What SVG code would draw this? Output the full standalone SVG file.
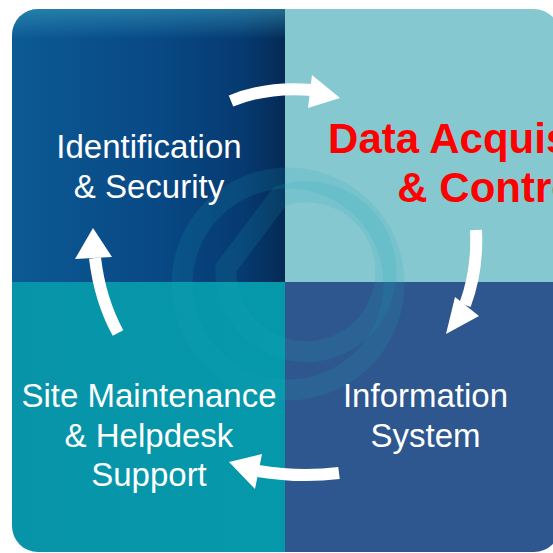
<svg xmlns="http://www.w3.org/2000/svg" width="553" height="553" viewBox="0 0 553 553">
<defs>
<clipPath id="panel"><rect x="12" y="9" width="548" height="543" rx="26"/></clipPath>
<linearGradient id="tl" x1="0" y1="0" x2="1" y2="0">
<stop offset="0" stop-color="#0c5a94"/>
<stop offset="0.55" stop-color="#084884"/>
<stop offset="0.85" stop-color="#063a70"/>
<stop offset="1" stop-color="#042a55"/>
</linearGradient>
<linearGradient id="tlTop" x1="0" y1="0" x2="0" y2="1">
<stop offset="0" stop-color="#3aa0c0" stop-opacity="0.55"/>
<stop offset="1" stop-color="#3aa0c0" stop-opacity="0"/>
</linearGradient>
<linearGradient id="blL" x1="0" y1="0" x2="1" y2="0">
<stop offset="0" stop-color="#0894a8"/>
<stop offset="1" stop-color="#0598ab"/>
</linearGradient>
<style>
.lbl{font-family:"Liberation Sans",Arial,sans-serif;font-size:33px;fill:#ffffff;text-anchor:middle}
.hot{font-family:"Liberation Sans",Arial,sans-serif;font-size:42px;font-weight:bold;fill:#ff0000;text-anchor:middle}
.shaft{fill:none;stroke:#ffffff;stroke-width:12}
.head{fill:#ffffff}
.ring{fill:none;stroke:#1aa6bb;stroke-opacity:0.15;stroke-width:21}
</style>
</defs>
<rect width="553" height="553" fill="#ffffff"/>
<g id="background" clip-path="url(#panel)">
<rect x="12" y="9" width="273" height="273" fill="url(#tl)"/>
<rect x="12" y="9" width="273" height="30" fill="url(#tlTop)"/>
<rect x="285" y="9" width="280" height="273" fill="#86c8d0"/>
<rect x="12" y="282" width="273" height="280" fill="url(#blL)"/>
<rect x="285" y="282" width="280" height="280" fill="#2e578f"/>
<g id="watermark">
<circle class="ring" cx="288" cy="284" r="106"/>
<path class="ring" d="M226,268 L280,196 A80,80 0 1 1 226,268 Z"/>
</g>
</g>
<g id="connectors">
<path class="shaft" d="M231,101 Q268,86 312,90"/>
<polygon class="head" points="312,75 340,98 308,108"/>
<path class="shaft" d="M476,230 Q478,270 465,305"/>
<polygon class="head" points="455,297 479,316 446,334"/>
<path class="shaft" d="M339,473 Q300,478 258,471"/>
<polygon class="head" points="262,454 229,462 255,489"/>
<path class="shaft" d="M118,333 Q100,300 95,258"/>
<polygon class="head" points="75,259 93,228 112,257"/>
</g>
<g id="identification">
<text class="lbl" x="149" y="158">Identification</text>
<text class="lbl" x="149" y="198">&amp; Security</text>
</g>
<g id="data-acquisition">
<text class="hot" x="493" y="153">Data Acquisition</text>
<text class="hot" x="493" y="202">&amp; Control</text>
</g>
<g id="information-system">
<text class="lbl" x="425.5" y="407">Information</text>
<text class="lbl" x="425.5" y="447">System</text>
</g>
<g id="site-maintenance">
<text class="lbl" x="149" y="407">Site Maintenance</text>
<text class="lbl" x="149" y="447">&amp; Helpdesk</text>
<text class="lbl" x="149" y="486">Support</text>
</g>
</svg>
